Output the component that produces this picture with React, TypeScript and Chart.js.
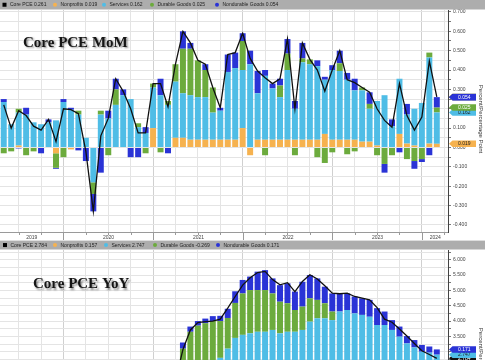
import React, { useEffect, useRef } from 'react';
import { Chart, registerables } from 'chart.js';

Chart.register(...registerables);

// ---------- categories ----------
const MONTHS = [
  '2019-04','2019-05','2019-06','2019-07','2019-08','2019-09','2019-10','2019-11','2019-12',
  '2020-01','2020-02','2020-03','2020-04','2020-05','2020-06','2020-07','2020-08','2020-09','2020-10','2020-11','2020-12',
  '2021-01','2021-02','2021-03','2021-04','2021-05','2021-06','2021-07','2021-08','2021-09','2021-10','2021-11','2021-12',
  '2022-01','2022-02','2022-03','2022-04','2022-05','2022-06','2022-07','2022-08','2022-09','2022-10','2022-11','2022-12',
  '2023-01','2023-02','2023-03','2023-04','2023-05','2023-06','2023-07','2023-08','2023-09','2023-10','2023-11','2023-12',
  '2024-01','2024-02','2024-03',
];
const YEARS = ['2019', '2020', '2021', '2022', '2023', '2024'];
const NAMES = ['Core PCE', 'Nonprofits', 'Services', 'Durable Goods', 'Nondurable Goods'];
const COLORS = ['#111111', '#f6b24f', '#4fbde6', '#6cab3d', '#2a33d6'];

// ---------- Core PCE MoM (contributions) ----------
const momCore = [0.22,0.10,0.19,0.165,0.11,0.09,0.145,0.03,0.20,0.195,
  0.175,-0.02,-0.33,0.06,0.15,0.355,0.29,0.20,0.075,0.075,
  0.33,0.33,0.21,0.43,0.60,0.54,0.45,0.43,0.31,0.205,
  0.48,0.49,0.59,0.46,0.395,0.36,0.33,0.355,0.56,0.20,
  0.54,0.455,0.40,0.29,0.40,0.50,0.35,0.335,0.31,0.285,
  0.20,0.14,0.105,0.33,0.165,0.09,0.157,0.446,0.261];
const momNonprofits = [0,0,0.01,0,0,0,0,-0.03,0,-0.01,
  0,0,0,0,0,0,0,0,0,0,
  0.10,0,0,0.05,0.05,0.04,0.04,0.04,0.04,0.04,
  0.04,0.04,0.10,-0.04,0.04,0.04,0.04,0.04,0.04,0.04,
  0.04,0.04,0.04,0.07,0.04,0.04,0.04,0.04,0.03,0.03,
  0.01,0,0,0.07,0.02,0.01,0,0.02,0.019];
const momServices = [0.235,0.12,0.17,0.17,0.13,0.12,0.13,0.14,0.235,0.195,
  0.17,0.05,-0.18,0.17,0.15,0.22,0.27,0.25,0.105,0.075,
  0.21,0.27,0.22,0.29,0.23,0.23,0.22,0.22,0.14,0.15,
  0.35,0.37,0.30,0.43,0.24,0.33,0.265,0.22,0.36,0.16,
  0.40,0.39,0.38,0.28,0.36,0.355,0.31,0.255,0.265,0.17,
  0.23,0.27,0.11,0.285,0.15,0.19,0.23,0.445,0.162];
const momDurable = [-0.03,-0.02,0.02,-0.04,-0.02,0,0,-0.075,-0.05,0,
  0.02,0,-0.06,0.02,-0.04,0.08,0,0,0.02,-0.03,
  0.02,-0.025,0.02,0.09,0.23,0.24,0.19,0.14,0.13,0,
  0,0,0.15,0,0,-0.04,0,0.06,0.085,-0.04,
  0.02,0.025,-0.05,-0.08,-0.025,0.04,-0.035,-0.02,0.015,0.025,
  -0.04,-0.085,-0.04,0,-0.06,-0.07,-0.06,0.025,0.025];
const momNondurable = [0.015,0,-0.005,0.035,0,-0.03,0.015,-0.005,0.015,0.01,
  -0.015,-0.07,-0.09,-0.13,0.04,0.055,0.03,-0.05,-0.05,0.03,
  0,0.085,-0.03,0,0.09,0.03,0,0.03,0,0.015,
  0.09,0.08,0.04,0.07,0.115,0.03,0.025,0.035,0.075,0.04,
  0.08,0,0.03,0.015,0.025,0.065,0.035,0.06,0,0.06,
  0,-0.045,0.035,-0.025,0.055,-0.04,-0.015,-0.04,0.054];

// ---------- Core PCE YoY (contributions) ----------
const yoyCore = [1.65,1.6,1.65,1.7,1.75,1.7,1.65,1.6,1.6,1.8,
  1.9,1.7,0.95,1.05,1.15,1.35,1.45,1.55,1.45,1.45,
  1.5,1.5,1.6,2.05,3.07,3.71,3.95,3.98,4.0,4.06,
  4.42,4.8,5.17,5.41,5.58,5.62,5.35,5.18,5.25,4.96,
  5.29,5.51,5.37,5.15,4.91,4.89,4.91,4.8,4.75,4.69,
  4.44,4.06,3.96,3.74,3.51,3.27,3.03,2.91,2.784];
const yoyNonprofits = [0.12,0.12,0.13,0.13,0.14,0.14,0.15,0.15,0.15,0.16,
  0.16,0.15,0.10,0.12,0.14,0.16,0.18,0.2,0.2,0.2,
  0.22,0.22,0.24,0.26,0.28,0.3,0.3,0.3,0.3,0.3,
  0.3,0.3,0.3,0.3,0.3,0.3,0.3,0.3,0.3,0.3,
  0.3,0.32,0.32,0.32,0.32,0.32,0.3,0.3,0.28,0.28,
  0.26,0.25,0.24,0.22,0.2,0.2,0.18,0.17,0.157];
const yoyServices = [1.3,1.3,1.32,1.35,1.38,1.36,1.33,1.3,1.3,1.4,
  1.45,1.35,0.9,0.95,1.0,1.1,1.15,1.2,1.15,1.15,
  1.15,1.15,1.2,1.4,1.92,2.0,2.1,2.2,2.3,2.5,
  2.8,3.15,3.25,3.3,3.35,3.35,3.41,3.3,3.35,3.35,
  3.41,3.66,3.77,3.77,3.71,3.99,4.06,3.95,3.92,3.86,
  3.61,3.62,3.47,3.27,3.07,2.94,2.82,2.8,2.747];
const yoyDurable = [0.05,0.05,0.06,0.05,0.06,0.05,0.04,0.04,0.04,0.05,
  0.06,0.05,0.0,0.05,0.1,0.15,0.15,0.18,0.2,0.2,
  0.22,0.22,0.24,0.3,0.9,1.35,1.45,1.43,1.4,1.2,
  1.0,1.14,1.35,1.41,1.36,1.36,1.19,1.03,0.93,0.71,
  0.76,0.76,0.6,0.49,0.28,-0.05,-0.05,-0.1,-0.1,-0.1,
  -0.2,-0.25,-0.1,-0.15,-0.15,-0.2,-0.23,-0.26,-0.269];
const yoyNondurable = [0.15,0.13,0.14,0.15,0.15,0.15,0.14,0.13,0.12,0.15,
  0.2,0.15,-0.05,-0.05,0.0,0.05,0.1,0.1,0.0,0.0,
  0.0,0.0,0.05,0.15,0.2,0.17,0.15,0.15,0.16,0.17,
  0.3,0.38,0.44,0.44,0.6,0.65,0.49,0.54,0.65,0.6,
  0.81,0.76,0.7,0.54,0.59,0.59,0.54,0.55,0.54,0.55,
  0.55,0.44,0.32,0.33,0.24,0.24,0.22,0.2,0.171];

type Spec = {
  id: string;
  series: number[][]; // core, np, svc, dur, nd
  top: number; height: number;
  min: number; max: number; step: number; labelEvery: number;
  title: string; titleX: number; titleY: number;
  legendY: number; legendH: number; markers: number[];
  axisTitleY: number;
};

const SANS = '"Liberation Sans", Arial, sans-serif';

function makePlugin(s: Spec) {
  return {
    id: 'panel_' + s.id,
    afterDraw(chart: any) {
      const ctx = chart.ctx as CanvasRenderingContext2D;
      const a = chart.chartArea;
      const xs = chart.scales.x;
      const ys = chart.scales.y;
      const W = chart.width;
      ctx.save();

      // x axis ticks (quarters short, years long) + year labels
      const decs: number[] = [];
      ctx.strokeStyle = '#9a9a9a';
      ctx.lineWidth = 1;
      MONTHS.forEach((m, i) => {
        const px = Math.round(xs.getPixelForValue(i)) + 0.5;
        let len = 0;
        if (m.endsWith('-12')) { decs.push(px); len = 8; }
        else if (i % 3 === 2) len = 3;
        if (len) {
          ctx.beginPath();
          ctx.moveTo(px, a.bottom);
          ctx.lineTo(px, a.bottom + len);
          ctx.stroke();
        }
      });
      const bounds = [a.left, ...decs, a.right];
      ctx.font = '5px ' + SANS;
      ctx.fillStyle = '#444';
      ctx.textAlign = 'center';
      ctx.textBaseline = 'middle';
      YEARS.forEach((y, k) => {
        ctx.fillText(y, (bounds[k] + bounds[k + 1]) / 2, a.bottom + 5.5);
      });

      // right axis title
      ctx.save();
      ctx.translate(481, s.axisTitleY);
      ctx.rotate(Math.PI / 2);
      ctx.font = '6px ' + SANS;
      ctx.fillStyle = '#333';
      ctx.textAlign = 'center';
      ctx.textBaseline = 'middle';
      ctx.fillText('Percent/Percentage Point', 0, 0);
      ctx.restore();

      // legend bar
      const last = s.series.map((arr) => arr[arr.length - 1]);
      ctx.fillStyle = '#adadad';
      ctx.fillRect(0, s.legendY, W, s.legendH);
      const cy = s.legendY + s.legendH / 2;
      s.markers.forEach((mx, k) => {
        if (k === 0) {
          ctx.fillStyle = '#000';
          ctx.fillRect(mx - 2, cy - 2, 4, 4);
        } else {
          ctx.beginPath();
          ctx.arc(mx, cy, 2, 0, Math.PI * 2);
          ctx.fillStyle = COLORS[k];
          ctx.fill();
        }
        ctx.fillStyle = '#1e1e1e';
        ctx.textAlign = 'left';
        ctx.font = '5px ' + SANS;
        ctx.fillText(`${NAMES[k]} ${last[k].toFixed(3)}`, mx + 5.5, cy + 0.3);
      });

      // value tags on the right axis
      const [core, np, svc, dur, nd] = last;
      let pos = 0;
      const tags: { v: number; at: number; k: number; tc: string }[] = [];
      tags.push({ v: core, at: core, k: 0, tc: '#fff' });
      if (np > 0) { pos += np; tags.push({ v: np, at: pos, k: 1, tc: '#222' }); }
      else tags.push({ v: np, at: np, k: 1, tc: '#222' });
      if (svc > 0) { pos += svc; tags.push({ v: svc, at: pos, k: 2, tc: '#222' }); }
      if (dur > 0) { pos += dur; tags.push({ v: dur, at: pos, k: 3, tc: '#fff' }); }
      else tags.push({ v: dur, at: dur, k: 3, tc: '#fff' });
      if (nd > 0) { pos += nd; tags.push({ v: nd, at: pos, k: 4, tc: '#fff' }); }
      tags.forEach((t) => {
        const y = ys.getPixelForValue(t.at);
        if (y < a.top || y > a.bottom) return;
        const x0 = a.right + 1;
        const w = 27;
        const h = 6.5;
        ctx.beginPath();
        ctx.moveTo(x0, y);
        ctx.lineTo(x0 + 3.5, y - h / 2);
        ctx.lineTo(x0 + w, y - h / 2);
        ctx.lineTo(x0 + w, y + h / 2);
        ctx.lineTo(x0 + 3.5, y + h / 2);
        ctx.closePath();
        ctx.fillStyle = COLORS[t.k];
        ctx.fill();
        ctx.fillStyle = t.tc;
        ctx.font = '5px ' + SANS;
        ctx.textAlign = 'center';
        ctx.textBaseline = 'middle';
        ctx.fillText(t.v.toFixed(3), x0 + 3.5 + (w - 3.5) / 2, y + 0.3);
      });

      // panel title
      ctx.font = 'bold 15px "Liberation Serif", "Times New Roman", serif';
      ctx.textAlign = 'left';
      ctx.textBaseline = 'alphabetic';
      ctx.shadowColor = 'rgba(0,0,0,0.45)';
      ctx.shadowOffsetX = 1.5;
      ctx.shadowOffsetY = 1.5;
      ctx.shadowBlur = 2;
      ctx.fillStyle = '#151515';
      ctx.fillText(s.title, s.titleX, s.titleY);

      ctx.restore();
    },
  };
}

function Panel({ s }: { s: Spec }) {
  const ref = useRef<HTMLCanvasElement>(null);
  useEffect(() => {
    const [core, np, svc, dur, nd] = s.series;
    const bar = (k: number, data: number[]) => ({
      type: 'bar' as const,
      label: NAMES[k],
      data,
      backgroundColor: COLORS[k],
      borderWidth: 0,
      barPercentage: 0.8,
      categoryPercentage: 1,
      stack: 'comp',
      order: 1,
    });
    const chart = new Chart(ref.current as HTMLCanvasElement, {
      type: 'bar',
      data: {
        labels: MONTHS,
        datasets: [
          {
            type: 'line',
            label: NAMES[0],
            data: core,
            borderColor: COLORS[0],
            borderWidth: 1.3,
            pointRadius: 0,
            tension: 0,
            fill: false,
            stack: 'line',
            order: 0,
          } as any,
          bar(1, np),
          bar(2, svc),
          bar(3, dur),
          bar(4, nd),
        ],
      },
      options: {
        responsive: false,
        animation: false,
        events: [],
        layout: { padding: { top: 10, left: 0, right: 0, bottom: 0 } },
        plugins: {
          legend: { display: false },
          tooltip: { enabled: false },
          title: { display: false },
        },
        scales: {
          x: {
            type: 'category',
            offset: true,
            stacked: true,
            grid: {
              offset: false,
              drawTicks: false,
              lineWidth: 1,
              color: (c: any) => {
                const i = c.index;
                const m = MONTHS[i] || '';
                if (m.endsWith('-12')) return '#d0d0d0';
                if (i % 3 === 2) return '#e4e4e4';
                return 'rgba(0,0,0,0)';
              },
            },
            border: { display: true, color: '#9a9a9a' },
            ticks: { display: false, autoSkip: false },
            afterFit: (sc: any) => { sc.height = 8; sc.paddingLeft = 0; sc.paddingRight = 0; },
          },
          y: {
            position: 'right',
            stacked: true,
            min: s.min,
            max: s.max,
            grid: { color: '#e4e4e4', lineWidth: 1, tickLength: 3, tickColor: '#777' },
            border: { display: true, color: '#444' },
            ticks: {
              stepSize: s.step,
              maxTicksLimit: 200,
              includeBounds: false,
              autoSkip: false,
              padding: 2,
              color: '#444',
              font: { size: 5, family: SANS },
              callback: (v: any) => {
                const n = Math.round(Number(v) / s.step);
                return n % s.labelEvery === 0 ? Number(v).toFixed(3) : '';
              },
            },
            afterFit: (sc: any) => { sc.width = 37; sc.paddingTop = 0; sc.paddingBottom = 0; },
          },
        },
      } as any,
      plugins: [makePlugin(s)],
    });
    return () => chart.destroy();
  }, [s]);
  return (
    <div style={{ position: 'absolute', left: 0, top: s.top, width: 485, height: s.height }}>
      <canvas ref={ref} width={485} height={s.height} style={{ display: 'block', width: 485, height: s.height }} />
    </div>
  );
}

const TOP: Spec = {
  id: 'mom',
  series: [momCore, momNonprofits, momServices, momDurable, momNondurable],
  top: 0, height: 240,
  min: -0.4365, max: 0.71, step: 0.05, labelEvery: 2,
  title: 'Core PCE MoM', titleX: 23, titleY: 46.5,
  legendY: 0, legendH: 9.5, markers: [4.5, 55, 104, 152, 217],
  axisTitleY: 119,
};

const BOTTOM: Spec = {
  id: 'yoy',
  series: [yoyCore, yoyNonprofits, yoyServices, yoyDurable, yoyNondurable],
  top: 240, height: 151,
  min: 1.98, max: 6.316, step: 0.25, labelEvery: 2,
  title: 'Core PCE YoY', titleX: 33, titleY: 48,
  legendY: 0.6, legendH: 8.9, markers: [5, 55, 106, 155, 218],
  axisTitleY: 122,
};

export default function App() {
  return (
    <div style={{ position: 'fixed', left: 0, top: 0, width: 485, height: 360, overflow: 'hidden', background: '#fff' }}>
      <Panel s={TOP} />
      <Panel s={BOTTOM} />
    </div>
  );
}
